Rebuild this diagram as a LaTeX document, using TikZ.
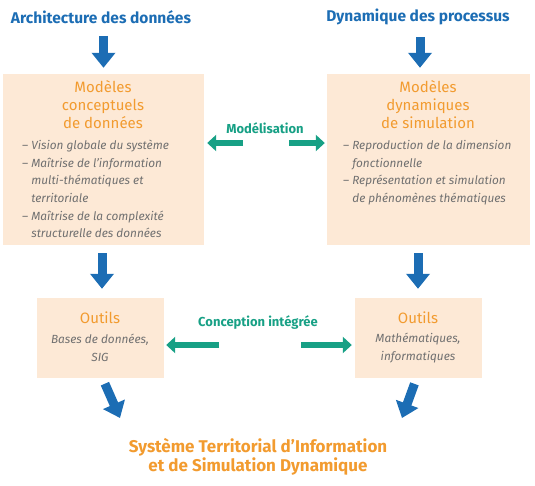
\documentclass[tikz,border=0pt]{standalone}
\usepackage{fontspec}
\setmainfont{Fira Sans}
\usetikzlibrary{arrows.meta}
\definecolor{titlecolor}{HTML}{1C6DB4}
\definecolor{linkcolor}{HTML}{17A085}
\definecolor{boxcolor}{HTML}{FDE9D6}
\definecolor{headcolor}{HTML}{F29B2F}
\definecolor{listcolor}{HTML}{707070}

\tikzset{
  bluearrow/.style={draw=titlecolor, line width=9pt, -{Triangle[length=15pt,width=23pt]}},
  greenarrow/.style={draw=linkcolor, line width=6pt, -{Triangle[length=9pt,width=16pt]}},
  modelbox/.style={fill=boxcolor, inner sep=0pt},
  maintitle/.style={text=titlecolor, font=\fontsize{15.5}{18}\selectfont\bfseries, inner sep=0pt},
  boxtitle/.style={text=headcolor, font=\fontsize{15}{18}\selectfont, align=center, inner sep=0pt},
  itemlist/.style={text=listcolor, font=\fontsize{11.8}{17.6}\selectfont\itshape, align=left, inner sep=0pt},
  linklabel/.style={text=linkcolor, font=\fontsize{13}{15}\selectfont\bfseries, inner sep=0pt},
  stidtitle/.style={text=headcolor, font=\fontsize{17}{18.5}\selectfont\bfseries, align=center, inner sep=0pt}
}
\newcommand{\dashitem}{\phantom{-- }}

\begin{document}
\begin{tikzpicture}[x=1pt,y=1pt]
  \useasboundingbox (0,0) rectangle (535,-485);
  % column titles
  \node[maintitle] (archi) at (101,-17) {Architecture des données};
  \node[maintitle] (dyna) at (418,-17) {Dynamique des processus};
  % upper boxes
  \node[modelbox, minimum width=201pt, minimum height=171pt] (concept) at (103.5,-159.5) {};
  \node[modelbox, minimum width=203pt, minimum height=171pt] (simul) at (428.5,-159.5) {};
  \node[boxtitle] (concepthead) at (103,-105) {Modèles\\conceptuels\\de données};
  \node[boxtitle] (simulhead) at (428,-105) {Modèles\\dynamiques\\de simulation};
  \node[itemlist, anchor=north west] (conceptlist) at (22,-140) {-- Vision globale du système\\
    -- Maîtrise de l'information\\ \dashitem multi-thématiques et\\ \dashitem territoriale\\
    -- Maîtrise de la complexité\\ \dashitem structurelle des données};
  \node[itemlist, anchor=north west] (simullist) at (343,-140) {-- Reproduction de la dimension\\
    \dashitem fonctionnelle\\ -- Représentation et simulation\\ \dashitem de phénomènes thématiques};
  % lower boxes
  \node[modelbox, minimum width=127pt, minimum height=80pt] (toolsdata) at (100.5,-338) {};
  \node[modelbox, minimum width=127pt, minimum height=80pt] (toolsmath) at (418.5,-338) {};
  \node[boxtitle] (toolsdatahead) at (100,-318) {Outils};
  \node[boxtitle] (toolsmathhead) at (418,-318) {Outils};
  \node[itemlist, align=center] (toolsdatalist) at (100,-348) {Bases de données,\\SIG};
  \node[itemlist, align=center] (toolsmathlist) at (418,-348) {Mathématiques,\\informatiques};
  % links between columns
  \node[linklabel] (model) at (265,-128) {Modélisation};
  \node[linklabel] (design) at (258,-323) {Conception intégrée};
  \coordinate (modelL) at (243,-143); \coordinate (modelR) at (289,-143);
  \coordinate (designL) at (219,-345); \coordinate (designR) at (301,-345);
  \draw[greenarrow, shorten >=3pt] (modelL) -- (modelL -| concept.east);
  \draw[greenarrow, shorten >=2pt] (modelR) -- (modelR -| simul.west);
  \draw[greenarrow, shorten >=2pt] (designL) -- (designL -| toolsdata.east);
  \draw[greenarrow, shorten >=3pt] (designR) -- (designR -| toolsmath.west);
  % final system
  \node[stidtitle] (stid) at (258,-457) {Système Territorial d'Information\\et de Simulation Dynamique};
  \coordinate (tipL) at (120,-418); \coordinate (tipR) at (402,-418);
  % vertical flow
  \draw[bluearrow, shorten <=12pt, shorten >=6pt] (archi.south -| concept.north) -- (concept.north);
  \draw[bluearrow, shorten <=12pt, shorten >=6pt] (dyna.south -| 420,0) -- (concept.north -| 420,0);
  \draw[bluearrow, shorten <=8pt, shorten >=9pt] (concept.south -| 102,0) -- (toolsdata.north -| 102,0);
  \draw[bluearrow, shorten <=8pt, shorten >=9pt] (simul.south -| 418,0) -- (toolsmath.north -| 418,0);
  \draw[bluearrow, shorten <=6pt] ([xshift=2pt]toolsdata.south) -- (tipL);
  \draw[bluearrow, shorten <=6pt] ([xshift=-2pt]toolsmath.south) -- (tipR);
\end{tikzpicture}
\end{document}
